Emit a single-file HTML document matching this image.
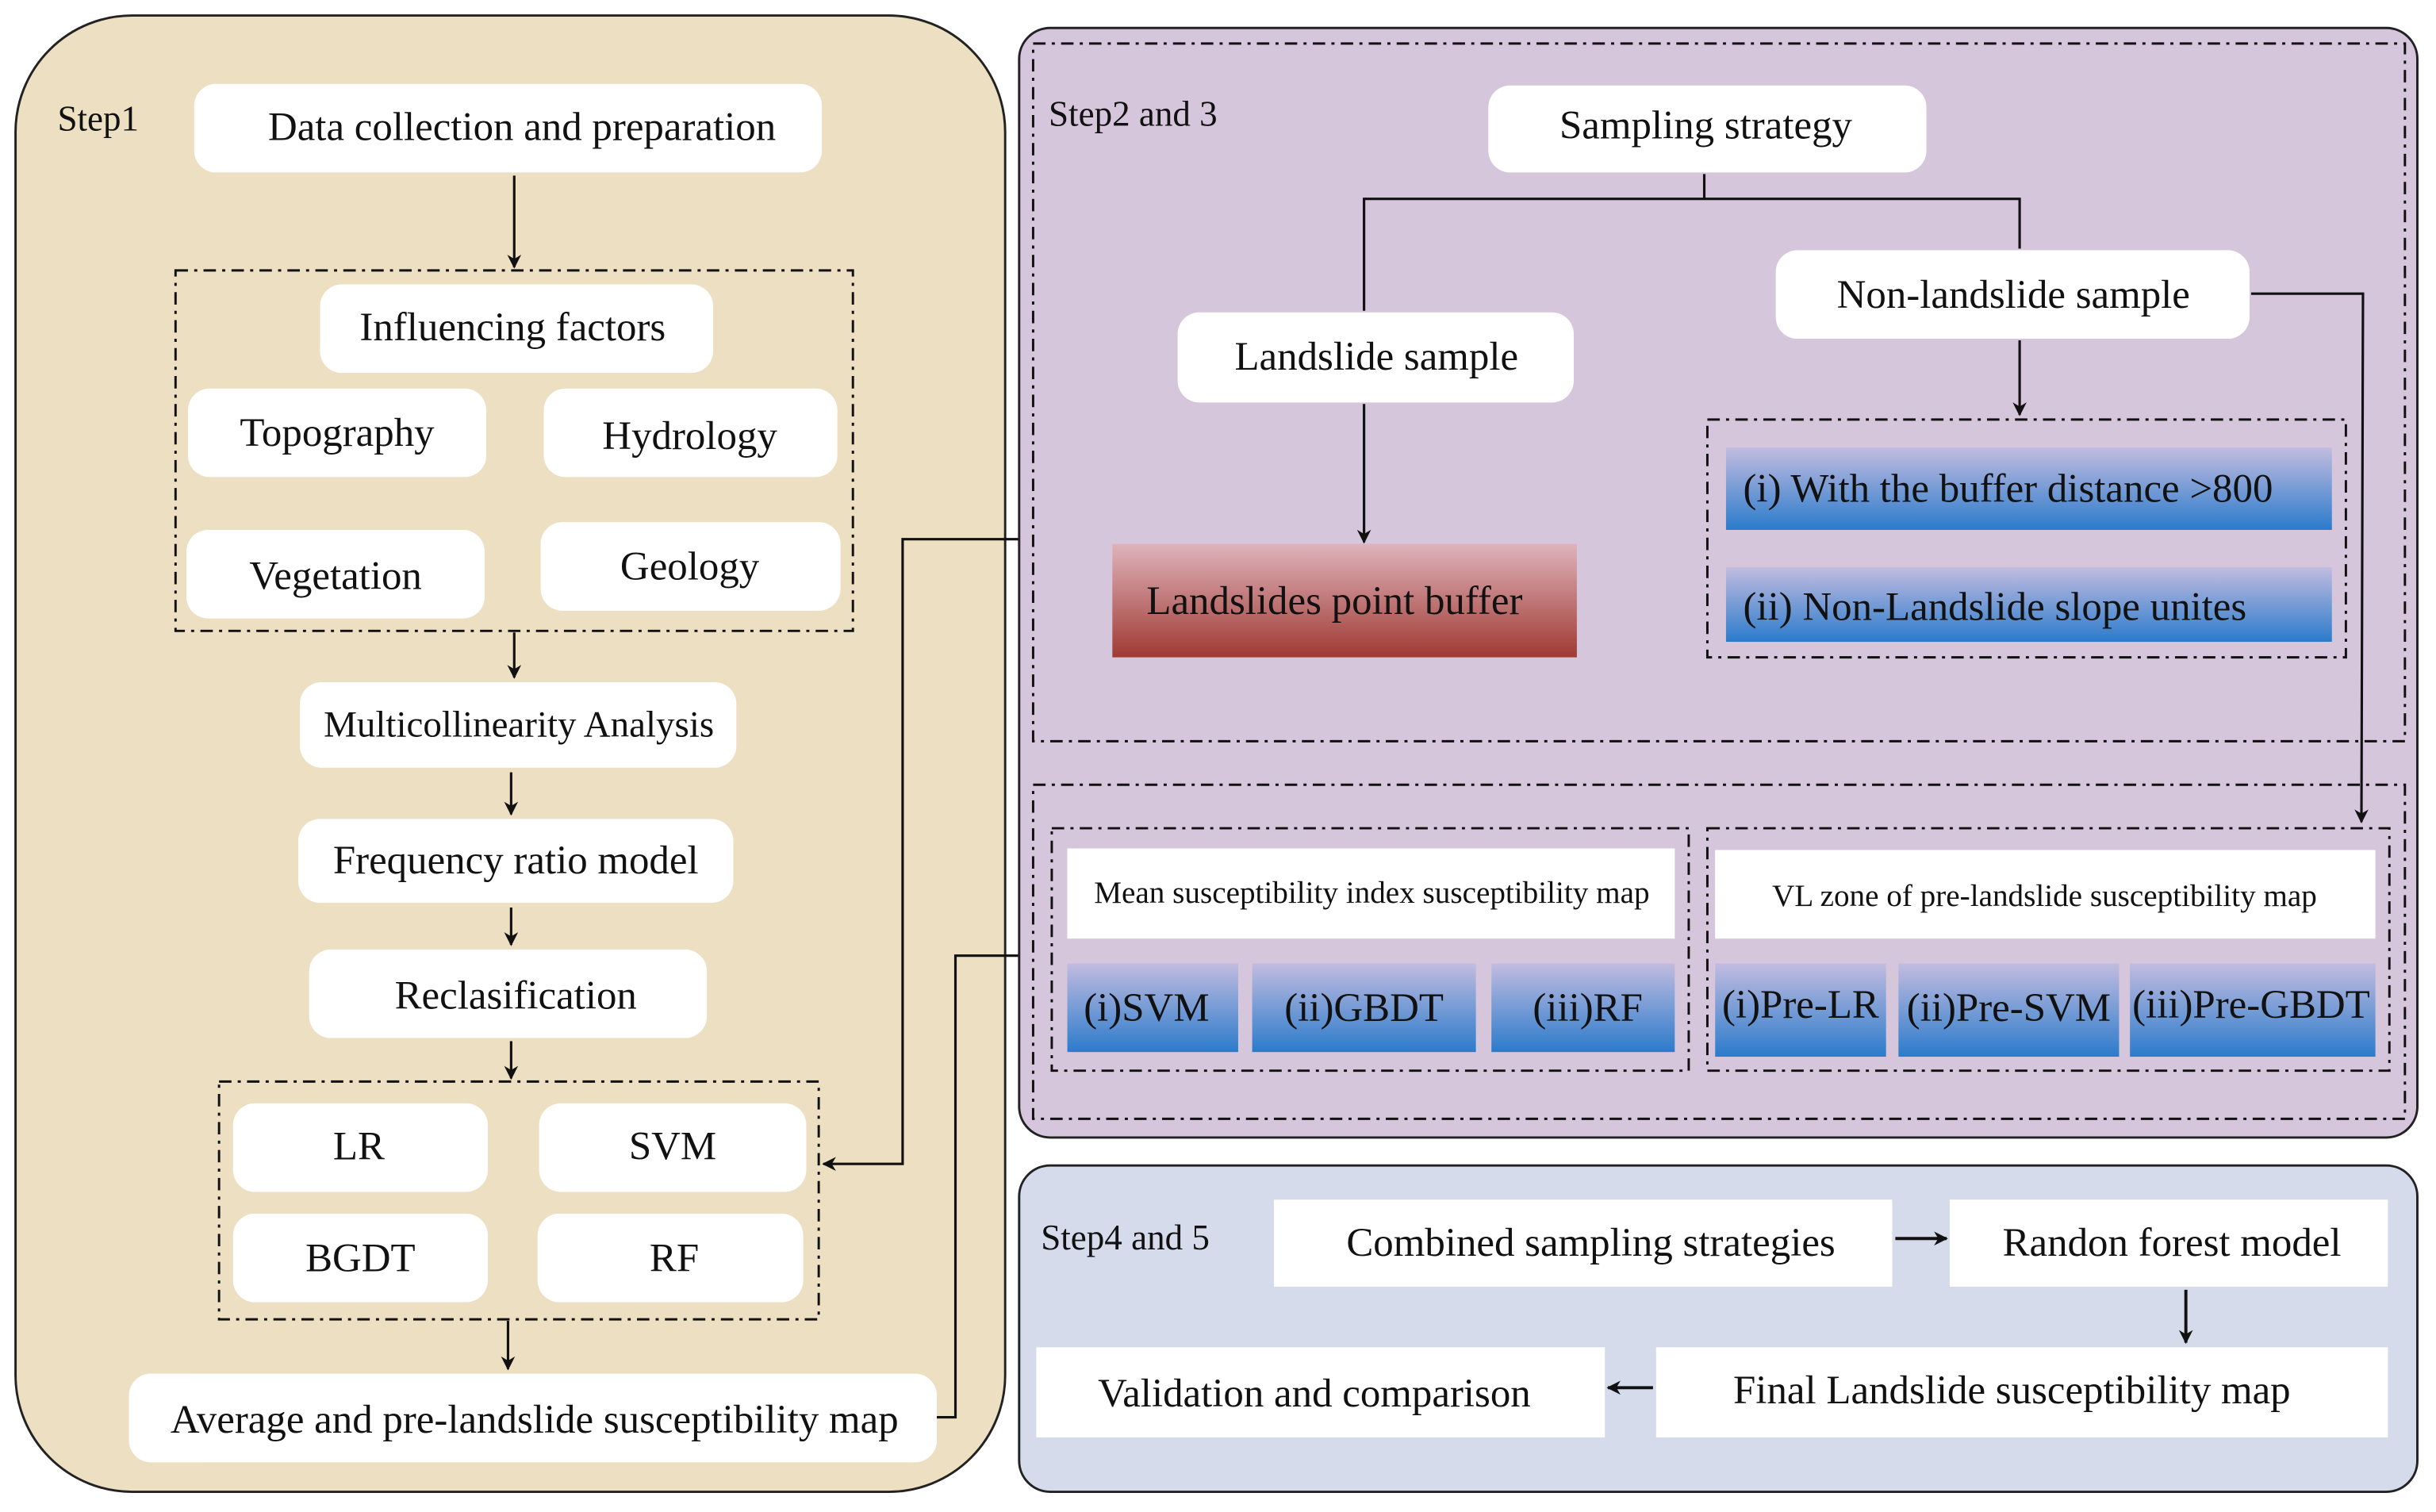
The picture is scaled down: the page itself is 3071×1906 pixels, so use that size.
<!DOCTYPE html>
<html><head><meta charset="utf-8"><style>
html,body{margin:0;padding:0;background:#fff;}
svg{display:block;}
text{font-family:"Liberation Serif","Times New Roman",serif;fill:#111;}
</style></head><body>
<svg width="3071" height="1906" viewBox="0 0 1568 973" preserveAspectRatio="none" xmlns="http://www.w3.org/2000/svg" font-family="Liberation Serif, serif">
<defs>
<linearGradient id="red" x1="0" y1="0" x2="0" y2="1"><stop offset="0" stop-color="#dfb3bb"/><stop offset="1" stop-color="#a03a33"/></linearGradient>
<linearGradient id="blue" x1="0" y1="0" x2="0" y2="1"><stop offset="0" stop-color="#c2bce0"/><stop offset="1" stop-color="#2b7bcb"/></linearGradient>
<marker id="ar" viewBox="0 0 10 10" refX="9" refY="5" markerWidth="9" markerHeight="9" orient="auto-start-reverse" markerUnits="userSpaceOnUse"><path d="M0,0 L10,5 L0,10 L3,5 z" fill="#111"/></marker>
</defs>
<!-- Step1 -->
<rect x="10" y="10" width="637" height="950" rx="75" fill="#ecdfc2" stroke="#222" stroke-width="1.5"/>
<text x="37" y="84" font-size="23">Step1</text>
<g fill="#fff">
<rect x="125" y="54" width="404" height="57" rx="14"/>
<rect x="206" y="183" width="253" height="57" rx="14"/>
<rect x="121" y="250" width="192" height="57" rx="14"/>
<rect x="350" y="250" width="189" height="57" rx="14"/>
<rect x="120" y="341" width="192" height="57" rx="14"/>
<rect x="348" y="336" width="193" height="57" rx="14"/>
<rect x="193" y="439" width="281" height="55" rx="14"/>
<rect x="192" y="527" width="280" height="54" rx="14"/>
<rect x="199" y="611" width="256" height="57" rx="14"/>
<rect x="150" y="710" width="164" height="57" rx="14"/>
<rect x="347" y="710" width="172" height="57" rx="14"/>
<rect x="150" y="781" width="164" height="57" rx="14"/>
<rect x="346" y="781" width="171" height="57" rx="14"/>
<rect x="83" y="884" width="520" height="57" rx="14"/>
</g>
<g fill="none" stroke="#111" stroke-width="1.5" stroke-dasharray="8,4,2,4">
<rect x="113" y="174" width="436" height="232"/>
<rect x="141" y="696" width="386" height="153"/>
</g>
<g text-anchor="middle" font-size="26">
<text x="336" y="90">Data collection and preparation</text>
<text x="330" y="219">Influencing factors</text>
<text x="217" y="287">Topography</text>
<text x="444" y="289">Hydrology</text>
<text x="216" y="379">Vegetation</text>
<text x="444" y="373">Geology</text>
<text x="334" y="474" font-size="24">Multicollinearity Analysis</text>
<text x="332" y="562">Frequency ratio model</text>
<text x="332" y="649">Reclasification</text>
<text x="231" y="746">LR</text>
<text x="433" y="746">SVM</text>
<text x="232" y="818">BGDT</text>
<text x="434" y="818">RF</text>
<text x="344" y="922">Average and pre-landslide susceptibility map</text>
</g>
<g stroke="#111" stroke-width="1.6" fill="none" marker-end="url(#ar)">
<line x1="331" y1="113" x2="331" y2="172"/>
<line x1="331" y1="407" x2="331" y2="436"/>
<line x1="329" y1="497" x2="329" y2="524"/>
<line x1="329" y1="584" x2="329" y2="608"/>
<line x1="329" y1="670" x2="329" y2="694"/>
<line x1="327" y1="850" x2="327" y2="881"/>
<polyline points="603,912 615,912 615,615 664,615"/>
<polyline points="668,347 581,347 581,749 530,749"/>
</g>
<!-- Step2 -->
<rect x="656" y="18" width="900" height="714" rx="20" fill="#d6c6dc" stroke="#222" stroke-width="1.5"/>
<g fill="none" stroke="#111" stroke-width="1.5" stroke-dasharray="8,4,2,4">
<rect x="665" y="28" width="883" height="449"/>
<rect x="665" y="505" width="883" height="215"/>
<rect x="1099" y="270" width="411" height="153"/>
<rect x="677" y="533" width="410" height="156"/>
<rect x="1099" y="533" width="439" height="156"/>
</g>
<text x="675" y="81" font-size="23">Step2 and 3</text>
<g fill="#fff">
<rect x="958" y="55" width="282" height="56" rx="14"/>
<rect x="758" y="201" width="255" height="58" rx="14"/>
<rect x="1143" y="161" width="305" height="57" rx="14"/>
<rect x="687" y="546" width="391" height="58"/>
<rect x="1104" y="547" width="425" height="57"/>
</g>
<rect x="716" y="350" width="299" height="73" fill="url(#red)"/>
<g fill="url(#blue)">
<rect x="1111" y="288" width="390" height="53"/>
<rect x="1111" y="365" width="390" height="48"/>
<rect x="687" y="620" width="110" height="57"/>
<rect x="806" y="620" width="144" height="57"/>
<rect x="960" y="620" width="118" height="57"/>
<rect x="1104" y="620" width="110" height="60"/>
<rect x="1222" y="620" width="142" height="60"/>
<rect x="1371" y="620" width="158" height="60"/>
</g>
<g font-size="26">
<text x="1098" y="89" text-anchor="middle">Sampling strategy</text>
<text x="886" y="238" text-anchor="middle">Landslide sample</text>
<text x="1296" y="198" text-anchor="middle">Non-landslide sample</text>
<text x="859" y="395" text-anchor="middle">Landslides point buffer</text>
<text x="1122" y="323">(i)   With the buffer distance &gt;800</text>
<text x="1122" y="399">(ii)   Non-Landslide slope unites</text>
<text x="738" y="657" text-anchor="middle">(i)SVM</text>
<text x="878" y="657" text-anchor="middle">(ii)GBDT</text>
<text x="1022" y="657" text-anchor="middle">(iii)RF</text>
<text x="1159" y="655" text-anchor="middle">(i)Pre-LR</text>
<text x="1293" y="657" text-anchor="middle">(ii)Pre-SVM</text>
<text x="1449" y="655" text-anchor="middle">(iii)Pre-GBDT</text>
<text x="883" y="581" font-size="20" text-anchor="middle">Mean susceptibility index susceptibility map</text>
<text x="1316" y="583" font-size="20" text-anchor="middle">VL zone of pre-landslide susceptibility map</text>
</g>
<g stroke="#111" stroke-width="1.6" fill="none">
<line x1="1097" y1="112" x2="1097" y2="128"/>
<polyline points="878,200 878,128 1300,128 1300,160"/>
<line x1="878" y1="260" x2="878" y2="349" marker-end="url(#ar)"/>
<line x1="1300" y1="219" x2="1300" y2="267" marker-end="url(#ar)"/>
<polyline points="1449,189 1521,189 1520,529" marker-end="url(#ar)"/>
</g>
<!-- Step4 -->
<rect x="656" y="750" width="900" height="210" rx="20" fill="#d5dbeb" stroke="#222" stroke-width="1.5"/>
<text x="670" y="804" font-size="23">Step4 and 5</text>
<g fill="#fff">
<rect x="820" y="772" width="398" height="56"/>
<rect x="1255" y="772" width="282" height="56"/>
<rect x="1066" y="867" width="471" height="58"/>
<rect x="667" y="867" width="366" height="58"/>
</g>
<g font-size="26" text-anchor="middle">
<text x="1024" y="808">Combined sampling strategies</text>
<text x="1398" y="808">Randon forest model</text>
<text x="1295" y="903">Final Landslide susceptibility map</text>
<text x="846" y="905">Validation and comparison</text>
</g>
<g stroke="#111" stroke-width="2" fill="none" marker-end="url(#ar)">
<line x1="1220" y1="797" x2="1253" y2="797"/>
<line x1="1407" y1="830" x2="1407" y2="864"/>
<line x1="1064" y1="893" x2="1035" y2="893"/>
</g>
</svg>
</body></html>
